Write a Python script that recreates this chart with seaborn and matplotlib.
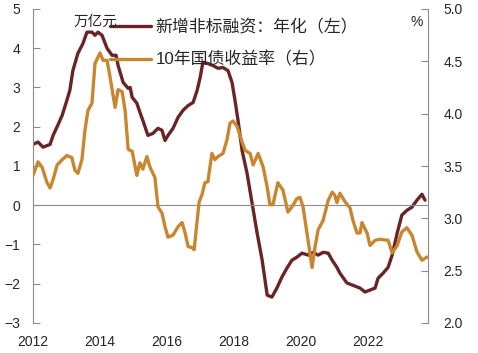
import matplotlib
matplotlib.use("Agg")
import matplotlib.pyplot as plt
import seaborn as sns

# 新增非标融资:年化 (万亿元)
tsf_years = [2012.00, 2012.15, 2012.30, 2012.51, 2012.60, 2012.72, 2012.87, 2013.01, 2013.10, 2013.19,
             2013.34, 2013.49, 2013.61, 2013.76, 2013.85, 2013.94, 2014.06, 2014.21, 2014.36, 2014.48,
             2014.54, 2014.69, 2014.84, 2014.90, 2014.96, 2015.10, 2015.19, 2015.28, 2015.43, 2015.58,
             2015.73, 2015.85, 2015.94, 2016.03, 2016.18, 2016.33, 2016.48, 2016.63, 2016.78, 2016.90,
             2016.99, 2017.07, 2017.22, 2017.37, 2017.52, 2017.67, 2017.82, 2017.94, 2018.03, 2018.12,
             2018.24, 2018.39, 2018.54, 2018.69, 2018.84, 2018.99, 2019.13, 2019.28, 2019.43, 2019.58,
             2019.73, 2019.88, 2020.03, 2020.21, 2020.36, 2020.51, 2020.66, 2020.81, 2020.93, 2021.07,
             2021.16, 2021.37, 2021.55, 2021.76, 2021.91, 2022.06, 2022.21, 2022.30, 2022.45, 2022.60,
             2022.72, 2022.87, 2023.01, 2023.16, 2023.31, 2023.46, 2023.61, 2023.70]
tsf_vals = [1.55, 1.61, 1.48, 1.55, 1.78, 2.00, 2.29, 2.67, 2.93, 3.43,
            3.87, 4.12, 4.41, 4.41, 4.33, 4.41, 4.33, 4.00, 3.82, 3.82,
            3.56, 3.13, 2.98, 3.00, 2.75, 2.60, 2.37, 2.16, 1.78, 1.83,
            1.96, 1.91, 1.65, 1.78, 1.96, 2.24, 2.42, 2.54, 2.62, 2.93,
            3.26, 3.64, 3.61, 3.56, 3.49, 3.51, 3.43, 3.13, 2.67, 2.16,
            1.40, 0.81, 0.05, -0.71, -1.40, -2.29, -2.34, -2.11, -1.83, -1.60,
            -1.40, -1.32, -1.22, -1.27, -1.20, -1.27, -1.20, -1.22, -1.40, -1.58,
            -1.73, -1.98, -2.04, -2.11, -2.21, -2.16, -2.11, -1.86, -1.73, -1.58,
            -1.27, -0.71, -0.25, -0.13, -0.05, 0.13, 0.28, 0.13]

# 10年国债收益率 (%)
bond_years = [2012.00, 2012.15, 2012.27, 2012.42, 2012.51, 2012.60, 2012.72, 2012.87, 2013.01, 2013.16,
              2013.25, 2013.34, 2013.46, 2013.55, 2013.64, 2013.76, 2013.85, 2014.00, 2014.09, 2014.21,
              2014.30, 2014.45, 2014.54, 2014.66, 2014.75, 2014.84, 2014.96, 2015.10, 2015.19, 2015.28,
              2015.40, 2015.49, 2015.64, 2015.73, 2015.85, 2015.94, 2016.03, 2016.18, 2016.33, 2016.45,
              2016.54, 2016.63, 2016.75, 2016.81, 2016.90, 2016.96, 2017.04, 2017.13, 2017.22, 2017.34,
              2017.43, 2017.52, 2017.67, 2017.79, 2017.88, 2017.97, 2018.09, 2018.24, 2018.33, 2018.48,
              2018.57, 2018.72, 2018.87, 2018.99, 2019.07, 2019.16, 2019.31, 2019.46, 2019.61, 2019.73,
              2019.88, 2019.97, 2020.06, 2020.21, 2020.33, 2020.42, 2020.51, 2020.66, 2020.81, 2020.93,
              2021.01, 2021.07, 2021.16, 2021.31, 2021.46, 2021.55, 2021.67, 2021.76, 2021.82, 2021.97,
              2022.06, 2022.21, 2022.36, 2022.60, 2022.72, 2022.87, 2023.01, 2023.16, 2023.31, 2023.46,
              2023.61, 2023.76]
bond_vals = [3.41, 3.54, 3.49, 3.34, 3.29, 3.37, 3.51, 3.56, 3.60, 3.58,
             3.46, 3.43, 3.56, 3.84, 4.03, 4.10, 4.48, 4.58, 4.51, 4.51,
             4.35, 4.06, 4.23, 4.21, 4.03, 3.66, 3.64, 3.41, 3.53, 3.47,
             3.59, 3.49, 3.39, 3.11, 3.05, 2.92, 2.82, 2.84, 2.92, 2.96,
             2.86, 2.73, 2.72, 2.70, 2.98, 3.16, 3.22, 3.34, 3.35, 3.62,
             3.56, 3.59, 3.62, 3.75, 3.91, 3.93, 3.88, 3.73, 3.65, 3.62,
             3.51, 3.62, 3.49, 3.30, 3.13, 3.13, 3.34, 3.27, 3.06, 3.11,
             3.19, 3.20, 3.11, 2.79, 2.53, 2.73, 2.89, 2.98, 3.17, 3.25,
             3.22, 3.15, 3.24, 3.16, 3.10, 2.98, 2.86, 2.86, 2.96, 2.86,
             2.74, 2.79, 2.80, 2.79, 2.67, 2.74, 2.87, 2.91, 2.84, 2.68,
             2.60, 2.63]

year_ticks = [2012, 2014, 2016, 2018, 2020, 2022]
left_ticks = [-3, -2, -1, 0, 1, 2, 3, 4, 5]
right_ticks = [2.0, 2.5, 3.0, 3.5, 4.0, 4.5, 5.0]
TSF_LABEL = "新增非标融资：年化（左）"
BOND_LABEL = "10年国债收益率（右）"

BROWN = "#6b2426"
ORANGE = "#c98630"
GREY = "#8c8c8c"

sns.set_style("white")
plt.rcParams["font.family"] = ["Liberation Sans", "Noto Sans CJK SC", "DejaVu Sans"]

fig = plt.figure(figsize=(4.78, 3.53), dpi=100)
ax = fig.add_axes([33 / 478, 30 / 353, 395 / 478, 314 / 353])
ax2 = ax.twinx()

sns.lineplot(x=tsf_years, y=tsf_vals, ax=ax, color=BROWN, lw=2.4, label=TSF_LABEL)
sns.lineplot(x=bond_years, y=bond_vals, ax=ax2, color=ORANGE, lw=2.4, label=BOND_LABEL)

ax.set_xlim(2012, 2023.79)
ax.set_ylim(-3, 5)
ax2.set_ylim(2, 5)

# left axis + x axis sitting on zero
for s in ["top", "right"]:
    ax.spines[s].set_visible(False)
ax.spines["left"].set_color(GREY)
ax.spines["bottom"].set_color(GREY)
ax.spines["bottom"].set_position(("data", 0))
ax.set_yticks(left_ticks)
ax.tick_params(axis="y", direction="in", length=5, color=GREY, pad=9, labelsize=10)
ax.set_xticks(year_ticks)
ax.tick_params(axis="x", direction="in", length=5, color=GREY, labelbottom=False)

sec = ax.secondary_xaxis("bottom")
sec.set_xticks(year_ticks)
sec.set_xticklabels([str(y) for y in year_ticks])
sec.tick_params(length=0, pad=9, labelsize=10)
sec.spines["bottom"].set_visible(False)

# right axis
for s in ["top", "left", "bottom"]:
    ax2.spines[s].set_visible(False)
ax2.spines["right"].set_color(GREY)
ax2.set_yticks(right_ticks)
ax2.set_yticklabels([f"{v:.1f}" for v in right_ticks])
ax2.tick_params(axis="y", direction="in", length=5, color=GREY, pad=11, labelsize=10)

ax.set_xlabel("")
ax.set_ylabel("")
ax2.set_ylabel("")

h1, l1 = ax.get_legend_handles_labels()
h2, l2 = ax2.get_legend_handles_labels()
ax.get_legend().remove()
ax2.legend(h1 + h2, l1 + l2, loc="upper left", bbox_to_anchor=(110 / 478, 1 - 19 / 353),
           bbox_transform=fig.transFigure, frameon=False, fontsize=12.2,
           handlelength=2.4, handletextpad=0.3, labelspacing=0.95, borderpad=0, borderaxespad=0)

fig.text(95 / 478, 1 - 22 / 353, "万亿元", ha="center", va="center", fontsize=10.5)
fig.text(417 / 478, 1 - 22 / 353, "%", ha="center", va="center", fontsize=10)

fig.savefig("out.png", dpi=100)
